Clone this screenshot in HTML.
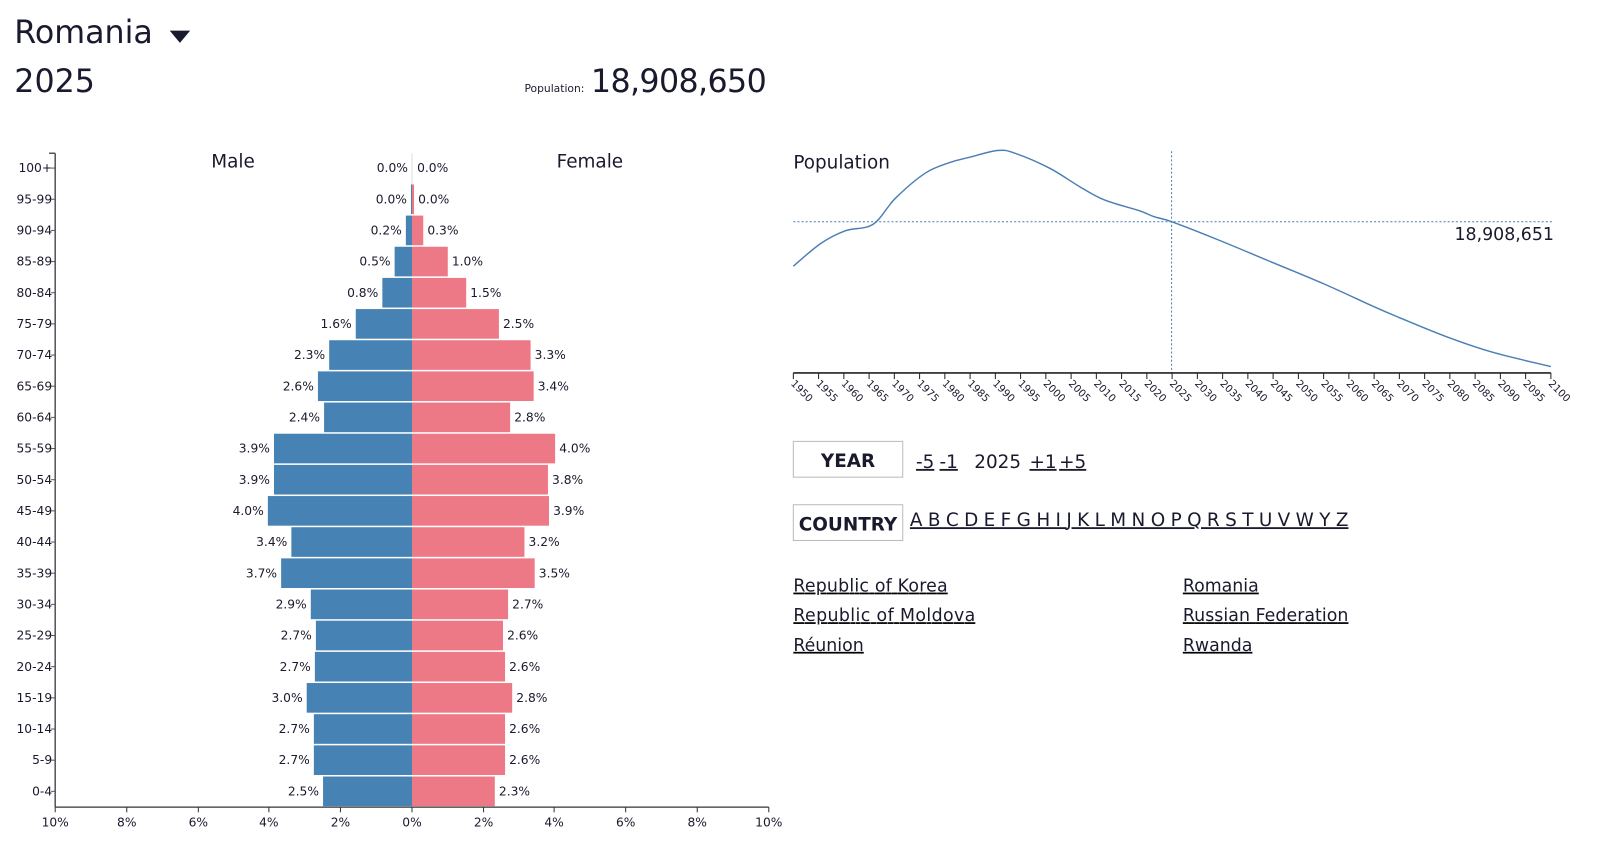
<!DOCTYPE html>
<html><head><meta charset="utf-8"><style>
html,body{margin:0;padding:0;background:#fff;width:1602px;height:846px;overflow:hidden}
svg{display:block}
text{font-family:"DejaVu Sans","Liberation Sans",sans-serif;fill:#1a1a2e}
</style></head><body>
<svg width="1602" height="846" viewBox="0 0 1567 828" preserveAspectRatio="none" xmlns="http://www.w3.org/2000/svg">
<text x="14" y="42" font-size="31">Romania</text>
<path d="M166 30 L186 30 L176 42 Z" fill="#1a1a2e"/>
<text x="14" y="90" font-size="31">2025</text>
<text x="513" y="90" font-size="10.5">Population:</text>
<text x="578" y="90" font-size="31" textLength="172">18,908,650</text>

<line x1="54" y1="150" x2="54" y2="790" stroke="#555" stroke-width="1.5"/>
<line x1="48" y1="150" x2="54" y2="150" stroke="#555" stroke-width="1.5"/>
<line x1="54" y1="790" x2="752" y2="790" stroke="#333" stroke-width="1.2"/>
<line x1="403" y1="150" x2="403" y2="180" stroke="#ddd"/>
<text x="228" y="164" font-size="18" text-anchor="middle" font-family="Liberation Sans">Male</text>
<text x="577" y="164" font-size="18" text-anchor="middle" font-family="Liberation Sans">Female</text>
<g font-size="12" font-family="Liberation Sans" text-anchor="middle">
<text x="54" y="809">10%</text><text x="124" y="809">8%</text><text x="194" y="809">6%</text><text x="263" y="809">4%</text><text x="333" y="809">2%</text><text x="403" y="809">0%</text><text x="473" y="809">2%</text><text x="542" y="809">4%</text><text x="612" y="809">6%</text><text x="682" y="809">8%</text><text x="752" y="809">10%</text>
</g>
<g stroke="#333"><line x1="54" y1="790" x2="54" y2="795"/><line x1="124" y1="790" x2="124" y2="795"/><line x1="194" y1="790" x2="194" y2="795"/><line x1="263" y1="790" x2="263" y2="795"/><line x1="333" y1="790" x2="333" y2="795"/><line x1="403" y1="790" x2="403" y2="795"/><line x1="473" y1="790" x2="473" y2="795"/><line x1="542" y1="790" x2="542" y2="795"/><line x1="612" y1="790" x2="612" y2="795"/><line x1="682" y1="790" x2="682" y2="795"/><line x1="752" y1="790" x2="752" y2="795"/></g>
<g id="bars"></g>

<text x="776" y="165" font-size="18">Population</text>
<line x1="776" y1="217" x2="1520" y2="217" stroke="#4a7fb5" stroke-dasharray="2,2" stroke-width="1"/>
<line x1="1146" y1="148" x2="1146" y2="365" stroke="#4a7fb5" stroke-dasharray="2,2" stroke-width="1"/>
<text x="1520" y="235" font-size="17" text-anchor="end">18,908,651</text>
<path id="curve" fill="none" stroke="#4a7fb5" stroke-width="1.4" stroke-linejoin="round"/>
<line x1="776" y1="365" x2="1517" y2="365" stroke="#222" stroke-width="1.5"/>
<g id="ticks"></g>

<rect x="776" y="432" width="107" height="35" fill="#fff" stroke="#bbb"/>
<text x="829.5" y="457" font-size="18" font-weight="bold" text-anchor="middle">YEAR</text>
<g font-size="18"><text x="896" y="458" text-decoration="underline">-5</text><text x="919" y="458" text-decoration="underline">-1</text><text x="953" y="458">2025</text><text x="1007" y="458" text-decoration="underline">+1</text><text x="1036" y="458" text-decoration="underline">+5</text></g>
<rect x="776" y="494" width="107" height="35" fill="#fff" stroke="#bbb"/>
<text x="829.5" y="519" font-size="18" font-weight="bold" text-anchor="middle">COUNTRY</text>
<text x="890" y="515" font-size="18" text-decoration="underline" textLength="429" lengthAdjust="spacing">A B C D E F G H I J K L M N O P Q R S T U V W Y Z</text>
<g font-size="17" text-decoration="underline">
<text x="776" y="579" textLength="151">Republic of Korea</text><text x="776" y="608" textLength="178">Republic of Moldova</text><text x="776" y="637">Réunion</text>
<text x="1157" y="579">Romania</text><text x="1157" y="608" textLength="162">Russian Federation</text><text x="1157" y="637">Rwanda</text>
</g>
</svg>
<script>
var NS="http://www.w3.org/2000/svg";
function el(p,t,a,txt){var e=document.createElementNS(NS,t);for(var k in a)e.setAttribute(k,a[k]);if(txt!=null)e.textContent=txt;p.appendChild(e);return e;}
var ages=["100+","95-99","90-94","85-89","80-84","75-79","70-74","65-69","60-64","55-59","50-54","45-49","40-44","35-39","30-34","25-29","20-24","15-19","10-14","5-9","0-4"];
var ml=[403,402,397,386,374,348,322,311,317,268,268,262,285,275,304,309,308,300,307,307,316];
var fr=[403,405,414,438,456,488,519,522,499,543,536,537,513,523,497,492,494,501,494,494,484];
var mp=["0.0%","0.0%","0.2%","0.5%","0.8%","1.6%","2.3%","2.6%","2.4%","3.9%","3.9%","4.0%","3.4%","3.7%","2.9%","2.7%","2.7%","3.0%","2.7%","2.7%","2.5%"];
var fp=["0.0%","0.0%","0.3%","1.0%","1.5%","2.5%","3.3%","3.4%","2.8%","4.0%","3.8%","3.9%","3.2%","3.5%","2.7%","2.6%","2.6%","2.8%","2.6%","2.6%","2.3%"];
var g=document.getElementById("bars");
for(var i=0;i<ages.length;i++){
 var cy=164.5+i*30.5;
 el(g,"text",{x:51,y:cy+4,"font-size":12,"text-anchor":"end","font-family":"Liberation Sans"},ages[i]);
 el(g,"line",{x1:50,y1:cy,x2:54,y2:cy,stroke:"#555"});
 if(i>0){
  el(g,"rect",{x:ml[i],y:cy-14.5,width:Math.max(403-ml[i],1.2),height:29,fill:"#4682b4"});
  el(g,"rect",{x:403,y:cy-14.5,width:Math.max(fr[i]-403,1.5),height:29,fill:"#ee7986"});
 }
 el(g,"text",{x:ml[i]-4,y:cy+4,"font-size":12,"text-anchor":"end","font-family":"Liberation Sans"},mp[i]);
 el(g,"text",{x:fr[i]+4+(i==0?1:0),y:cy+4,"font-size":12,"font-family":"Liberation Sans"},fp[i]);
}
var t=document.getElementById("ticks");
for(var y=1950;y<=2100;y+=5){
 var x=776+(y-1950)*741/150;
 el(t,"line",{x1:x,y1:365,x2:x,y2:371,stroke:"#222"});
 el(t,"text",{x:x-3,y:376,"font-size":10,"font-family":"Liberation Sans",transform:"rotate(45 "+(x-3)+" 376)"},String(y));
}
var P=[[776,260.5],[802.8,238.3],[827.1,225.8],[853.9,219.6],[875.8,194.1],[905,169.5],[929.3,159],[948.8,153.8],[975.6,147.3],[992.6,149.9],[1026.7,164.6],[1055.9,182.6],[1080.3,195.7],[1114.3,206.2],[1128.9,212.1],[1146,217],[1192.2,235],[1240.9,255.3],[1294.4,277.6],[1343.1,299.8],[1367.5,310.3],[1416.1,330],[1459.9,344.7],[1517,358.8]];
var d="M"+P[0][0]+","+P[0][1];
for(var i=0;i<P.length-1;i++){
 var p0=P[Math.max(i-1,0)],p1=P[i],p2=P[i+1],p3=P[Math.min(i+2,P.length-1)];
 var c1x=p1[0]+(p2[0]-p0[0])/6,c1y=p1[1]+(p2[1]-p0[1])/6,c2x=p2[0]-(p3[0]-p1[0])/6,c2y=p2[1]-(p3[1]-p1[1])/6;
 d+=" C"+c1x+","+c1y+" "+c2x+","+c2y+" "+p2[0]+","+p2[1];
}
document.getElementById("curve").setAttribute("d",d);
</script>
</body></html>
